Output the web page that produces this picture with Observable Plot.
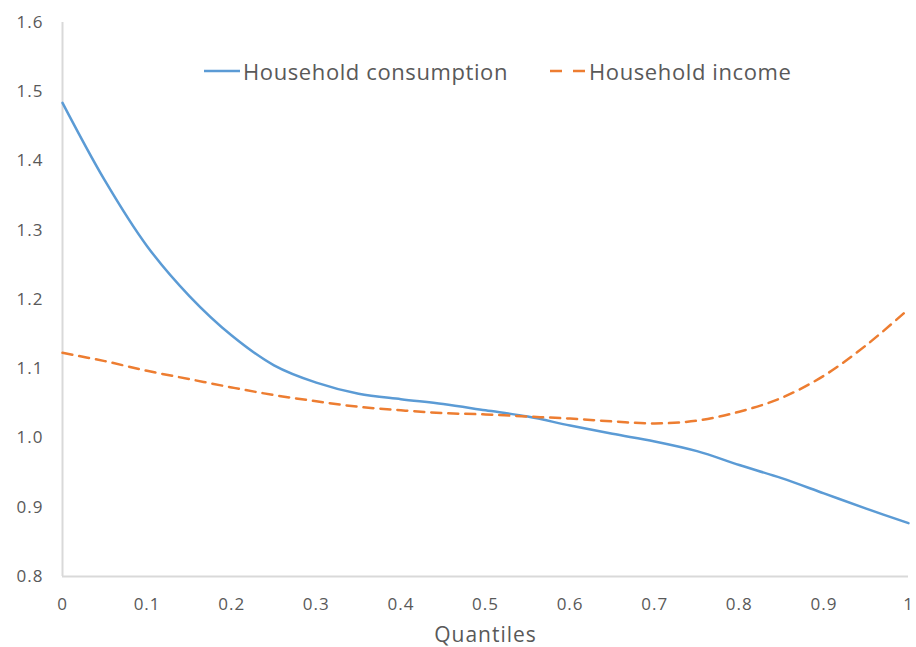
<!DOCTYPE html>
<html>
<head>
<meta charset="utf-8">
<script src="https://cdn.jsdelivr.net/npm/d3@7"></script>
<script src="https://cdn.jsdelivr.net/npm/@observablehq/plot@0.6"></script>
<style>
  html, body { margin: 0; padding: 0; background: #fff; }
  #wrap { position: relative; width: 916px; height: 647px; font-family: "Open Sans", sans-serif; }
  #legend { position: absolute; top: 56px; left: 204px; display: flex; align-items: center; font-size: 22px; letter-spacing: 0.6px; color: #595959; }
  #legend .item { display: flex; align-items: center; }
  #legend svg { margin-right: 3px; }
</style>
</head>
<body>
<div id="wrap">
  <div id="chart"></div>
  <div id="legend"></div>
</div>
<script>
const quantiles = [0, 0.05, 0.1, 0.15, 0.2, 0.25, 0.3, 0.35, 0.4, 0.45, 0.5, 0.55, 0.6, 0.65, 0.7, 0.75, 0.8, 0.85, 0.9, 0.95, 1.0];
const consumption = [1.484, 1.372, 1.277, 1.205, 1.148, 1.105, 1.080, 1.064, 1.056, 1.049, 1.040, 1.031, 1.018, 1.006, 0.995, 0.981, 0.961, 0.942, 0.920, 0.898, 0.877];
const income = [1.123, 1.111, 1.097, 1.085, 1.073, 1.062, 1.053, 1.045, 1.040, 1.036, 1.034, 1.031, 1.028, 1.024, 1.021, 1.025, 1.038, 1.058, 1.090, 1.134, 1.186];
const seriesNames = ["Household consumption", "Household income"];
const seriesColors = ["#5b9bd5", "#ed7d31"];
const xTicks = [0, 0.1, 0.2, 0.3, 0.4, 0.5, 0.6, 0.7, 0.8, 0.9, 1];
const xTickLabels = ["0", "0.1", "0.2", "0.3", "0.4", "0.5", "0.6", "0.7", "0.8", "0.9", "1"];
const yTicks = [0.8, 0.9, 1.0, 1.1, 1.2, 1.3, 1.4, 1.5, 1.6];
const xLabel = "Quantiles";

const consData = quantiles.map((q, i) => ({q, v: consumption[i]}));
const incData = quantiles.map((q, i) => ({q, v: income[i]}));

const chart = Plot.plot({
  width: 916,
  height: 647,
  marginLeft: 62,
  marginRight: 8,
  marginTop: 22,
  marginBottom: 71,
  style: {fontFamily: "Open Sans, sans-serif", fontSize: "17px", letterSpacing: "1px", color: "#595959", background: "#fff"},
  x: {domain: [0, 1], label: null},
  y: {domain: [0.8, 1.6], label: null},
  marks: [
    Plot.ruleY([0.8], {stroke: "#d9d9d9", strokeWidth: 2}),
    Plot.ruleX([0], {stroke: "#d9d9d9", strokeWidth: 2}),
    Plot.line(consData, {x: "q", y: "v", stroke: seriesColors[0], strokeWidth: 2.5, curve: "catmull-rom"}),
    Plot.line(incData, {x: "q", y: "v", stroke: seriesColors[1], strokeWidth: 2.5, strokeDasharray: "10,7", curve: "catmull-rom"}),
    Plot.axisX({ticks: xTicks, tickFormat: (d) => xTickLabels[xTicks.indexOf(d)], tickSize: 0, tickPadding: 21, fontSize: 17, fill: "#595959", label: null}),
    Plot.axisX({ticks: [], label: xLabel, labelAnchor: "center", labelArrow: "none", labelOffset: 65, fontSize: 21, fill: "#595959", tickSize: 0}),
    Plot.axisY({ticks: yTicks, tickFormat: d => d.toFixed(1), tickSize: 0, tickPadding: 19, fontSize: 17, fill: "#595959", label: null})
  ]
});
document.getElementById("chart").appendChild(chart);

const legend = document.getElementById("legend");
seriesNames.forEach((name, i) => {
  const item = document.createElement("div");
  item.className = "item";
  if (i > 0) item.style.marginLeft = "42px";
  const dash = i === 1 ? 'stroke-dasharray="12,11"' : '';
  item.innerHTML = `<svg width="36" height="10"><line x1="0" y1="5" x2="36" y2="5" stroke="${seriesColors[i]}" stroke-width="2.5" ${dash}/></svg><span>${name}</span>`;
  legend.appendChild(item);
});
</script>
</body>
</html>
